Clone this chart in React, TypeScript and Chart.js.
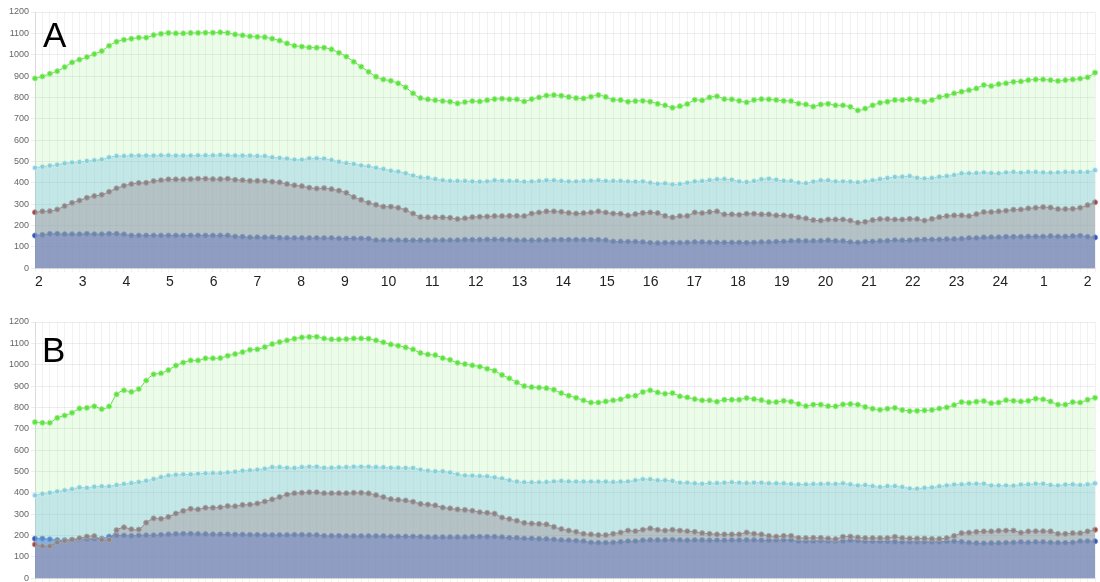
import React, { useEffect, useRef } from "react";
import { Chart, registerables } from "chart.js";

Chart.register(...registerables);

// ---------- categories / tick labels ----------
const HOUR_LABELS = ["2", "3", "4", "5", "6", "7", "8", "9", "10", "11", "12", "13", "14", "15", "16", "17", "18", "19", "20", "21", "22", "23", "24", "1", "2"];
const TIME_LABELS: string[] = [];
for (let i = 0; i < 144; i++) {
  const mins = 120 + i * 10;
  const h = Math.floor(mins / 60) % 24;
  const m = mins % 60;
  TIME_LABELS.push(String(h).padStart(2, "0") + ":" + String(m).padStart(2, "0"));
}
const Y_MIN = 0;
const Y_MAX = 1200;
const Y_STEP = 100;

// ---------- chart A ----------
const A_GREEN = [
  889, 898, 911, 923, 942, 964, 977, 989, 1003, 1017, 1042, 1061, 1070, 1075, 1080, 1080, 1092, 1098, 1102, 1100, 1100, 1102, 1102, 1103, 1103, 1105, 1102, 1095, 1091, 1086, 1084,
  1082, 1075, 1066, 1053, 1042, 1038, 1034, 1033, 1033, 1025, 1009, 991, 967, 944, 920, 897, 884, 878, 866, 847, 819, 797, 791, 787, 783, 780, 772, 778, 783, 781, 787, 792, 794, 791, 791,
  781, 792, 800, 809, 811, 808, 802, 797, 795, 803, 811, 802, 789, 788, 780, 783, 784, 780, 770, 763, 752, 759, 769, 789, 786, 800, 805, 792, 791, 784, 777, 788, 792, 791, 788, 784, 783,
  771, 767, 757, 767, 770, 763, 763, 756, 739, 748, 763, 775, 780, 788, 788, 792, 788, 780, 788, 802, 808, 819, 827, 834, 842, 858, 853, 862, 866, 873, 875, 881, 884, 884, 881, 877, 881, 884, 888, 894, 916,
];
const A_LIGHTBLUE = [
  470, 475, 480, 484, 491, 495, 497, 502, 505, 509, 519, 525, 525, 527, 527, 527, 527, 528, 528, 527, 527, 527, 528, 528, 528, 530, 528, 527, 527, 527, 525,
  525, 519, 516, 513, 508, 508, 514, 514, 513, 506, 498, 492, 488, 481, 477, 470, 464, 456, 452, 444, 434, 425, 423, 417, 411, 408, 408, 408, 406, 405, 406, 411, 409, 408, 408,
  405, 406, 408, 411, 411, 408, 406, 406, 408, 409, 411, 408, 408, 408, 406, 405, 406, 400, 395, 397, 392, 394, 400, 406, 408, 412, 416, 417, 414, 406, 403, 408, 416, 419, 414, 409, 408,
  400, 398, 405, 411, 411, 406, 406, 405, 402, 406, 411, 417, 422, 427, 428, 431, 423, 420, 422, 428, 431, 436, 444, 444, 445, 448, 445, 444, 448, 450, 447, 450, 450, 448, 447, 448, 450, 450, 450, 450, 459,
];
const A_RED = [
  262, 266, 267, 275, 291, 306, 317, 330, 338, 344, 358, 374, 386, 394, 399, 400, 408, 412, 416, 416, 416, 417, 419, 419, 417, 417, 419, 414, 412, 409, 409,
  408, 405, 402, 394, 388, 384, 377, 373, 375, 370, 363, 353, 333, 320, 306, 297, 288, 288, 283, 272, 256, 239, 238, 238, 238, 236, 230, 234, 239, 241, 242, 244, 244, 245, 245,
  244, 256, 261, 266, 266, 264, 259, 256, 258, 261, 266, 261, 256, 255, 247, 253, 259, 261, 258, 245, 238, 244, 245, 261, 258, 263, 266, 252, 252, 250, 255, 255, 252, 252, 247, 247, 244,
  238, 233, 225, 223, 228, 228, 228, 223, 213, 217, 225, 230, 230, 228, 228, 231, 230, 223, 231, 239, 244, 247, 247, 244, 253, 263, 263, 266, 269, 274, 275, 280, 283, 286, 284, 277, 277, 278, 283, 295, 309,
];
const A_BLUE = [
  153, 156, 161, 161, 159, 159, 159, 161, 159, 159, 161, 161, 158, 153, 153, 153, 153, 153, 153, 153, 153, 153, 153, 153, 153, 153, 153, 148, 147, 144, 145,
  144, 145, 142, 141, 141, 141, 141, 141, 141, 141, 139, 139, 139, 139, 138, 131, 131, 131, 131, 130, 130, 130, 130, 131, 131, 131, 131, 133, 133, 133, 134, 134, 134, 133, 131,
  131, 130, 131, 131, 133, 133, 133, 133, 133, 133, 133, 131, 125, 125, 124, 124, 122, 119, 117, 119, 119, 119, 120, 122, 122, 120, 120, 120, 120, 120, 119, 120, 122, 122, 124, 125, 127,
  128, 127, 127, 128, 130, 127, 127, 122, 120, 124, 125, 127, 128, 131, 130, 130, 133, 134, 134, 134, 136, 136, 138, 141, 141, 144, 145, 145, 147, 147, 147, 148, 148, 148, 150, 148, 148, 150, 152, 147, 144,
];

// ---------- chart B ----------
const B_GREEN = [
  731, 728, 728, 751, 762, 775, 795, 798, 805, 792, 805, 861, 880, 873, 886, 926, 955, 960, 975, 996, 1010, 1020, 1020, 1030, 1030, 1031, 1042, 1050, 1059, 1070, 1072,
  1083, 1097, 1106, 1114, 1122, 1128, 1130, 1131, 1123, 1119, 1119, 1120, 1123, 1123, 1122, 1114, 1105, 1095, 1089, 1081, 1072, 1055, 1048, 1045, 1031, 1023, 1009, 1003, 997, 991, 981, 972, 952, 936, 917, 900, 895,
  893, 890, 883, 867, 855, 845, 833, 823, 823, 828, 833, 838, 852, 855, 872, 880, 870, 864, 867, 852, 847, 839, 833, 833, 827, 836, 836, 836, 844, 839, 834, 825, 825, 831, 827,
  816, 806, 813, 813, 806, 805, 814, 816, 813, 802, 794, 789, 794, 798, 788, 783, 784, 786, 788, 795, 800, 811, 825, 822, 827, 830, 820, 823, 834, 831, 828, 831, 841, 838, 828, 813, 813, 825, 823, 836, 845,
];
const B_LIGHTBLUE = [
  388, 395, 400, 406, 411, 417, 425, 423, 428, 430, 430, 436, 441, 445, 450, 456, 464, 473, 481, 484, 486, 486, 489, 491, 492, 492, 495, 498, 503, 505, 508,
  512, 520, 520, 517, 516, 520, 522, 522, 517, 517, 519, 520, 522, 522, 522, 520, 519, 517, 517, 516, 516, 508, 503, 500, 500, 495, 486, 481, 480, 478, 477, 472, 467, 458, 452, 449, 449,
  449, 450, 453, 455, 453, 452, 452, 452, 452, 452, 450, 452, 453, 458, 463, 463, 458, 458, 455, 447, 447, 444, 442, 445, 445, 447, 449, 447, 445, 447, 447, 444, 444, 444, 441,
  439, 439, 441, 441, 442, 441, 444, 439, 434, 436, 431, 427, 431, 431, 427, 420, 419, 423, 425, 430, 434, 438, 439, 442, 442, 442, 434, 434, 434, 433, 438, 439, 442, 442, 436, 434, 438, 439, 436, 439, 444,
];
const B_RED = [
  158, 150, 150, 168, 175, 180, 187, 195, 197, 180, 180, 225, 238, 229, 228, 260, 280, 278, 287, 303, 315, 325, 322, 330, 330, 332, 338, 337, 343, 345, 350,
  359, 369, 380, 392, 398, 400, 402, 402, 398, 398, 398, 398, 400, 400, 397, 389, 380, 370, 367, 364, 358, 348, 345, 341, 331, 327, 322, 320, 316, 309, 306, 302, 284, 277, 269, 259, 256,
  254, 252, 240, 230, 223, 217, 208, 205, 202, 202, 208, 214, 223, 220, 227, 233, 227, 223, 227, 223, 220, 217, 211, 208, 205, 205, 205, 205, 214, 208, 205, 198, 195, 198, 198,
  189, 188, 189, 189, 186, 183, 194, 195, 191, 188, 188, 188, 188, 194, 188, 186, 186, 186, 184, 184, 188, 198, 211, 213, 217, 219, 219, 222, 223, 223, 213, 219, 220, 220, 219, 208, 208, 211, 211, 219, 227,
];
const B_BLUE = [
  185, 185, 182, 178, 178, 180, 182, 183, 185, 185, 195, 200, 200, 198, 200, 201, 201, 203, 205, 207, 208, 208, 207, 206, 205, 205, 205, 204, 204, 203, 203,
  202, 202, 202, 202, 203, 203, 202, 202, 198, 198, 198, 197, 197, 197, 197, 197, 197, 195, 195, 195, 195, 194, 192, 192, 192, 192, 192, 192, 194, 194, 194, 194, 192, 189, 189, 186, 186,
  184, 183, 181, 178, 177, 175, 173, 167, 166, 166, 167, 170, 173, 173, 177, 178, 178, 178, 180, 178, 177, 178, 178, 177, 177, 177, 178, 178, 178, 178, 177, 177, 178, 178, 178,
  173, 173, 173, 175, 173, 173, 173, 177, 175, 172, 172, 172, 172, 170, 169, 170, 170, 170, 170, 170, 172, 172, 170, 166, 164, 163, 164, 164, 166, 167, 169, 167, 169, 169, 167, 166, 166, 167, 173, 173, 173,
];

// ---------- styles ----------
const FONT = "'Liberation Sans', Arial, Helvetica, sans-serif";
const HOUR_AXIS_MIN = -0.09;
const HOUR_AXIS_MAX = 24.17;

type Series = { green: number[]; lightBlue: number[]; red: number[]; blue: number[] };

function ds(label: string, data: number[], line: string, point: string, halo: string, fill: string) {
  return {
    label,
    data,
    borderColor: line,
    borderWidth: 1,
    backgroundColor: fill,
    fill: "origin",
    tension: 0.3,
    pointRadius: 2.6,
    pointBorderWidth: 1,
    pointBackgroundColor: point,
    pointBorderColor: halo,
  };
}

function PanelChart({ series }: { series: Series }) {
  const ref = useRef<HTMLCanvasElement | null>(null);
  useEffect(() => {
    const canvas = ref.current;
    if (!canvas) return;
    const chart = new Chart(canvas, {
      type: "line",
      data: {
        labels: TIME_LABELS,
        datasets: [
          ds("green", series.green, "#58d83c", "#5ee23f", "rgba(165,240,150,0.9)", "rgba(88,230,72,0.12)"),
          ds("lightblue", series.lightBlue, "#86c3ec", "#8ecbf0", "rgba(225,242,255,0.9)", "rgba(139,192,250,0.4)"),
          ds("red", series.red, "#9a4040", "#a04444", "rgba(200,140,140,0.85)", "rgba(183,56,69,0.35)"),
          ds("blue", series.blue, "#3048c0", "#3350c4", "rgba(120,140,215,0.85)", "rgba(49,64,234,0.55)"),
        ] as any,
      },
      options: {
        responsive: false,
        animation: false,
        devicePixelRatio: 1,
        events: [],
        layout: { padding: { top: 12, right: 2, bottom: 7, left: 0 } },
        plugins: {
          legend: { display: false },
          tooltip: { enabled: false },
        },
        scales: {
          x: {
            type: "category",
            weight: 0,
            offset: false,
            grid: { color: "rgba(0,0,0,0.05)", tickLength: 4, drawTicks: true, offset: false },
            border: { color: "rgba(0,0,0,0.1)" },
            ticks: { display: false, autoSkip: false },
          },
          hours: {
            type: "linear",
            axis: "x",
            position: "bottom",
            weight: 1,
            min: HOUR_AXIS_MIN,
            max: HOUR_AXIS_MAX,
            grid: { display: false, drawTicks: false },
            border: { display: false },
            afterBuildTicks: (s: any) => {
              s.ticks = HOUR_LABELS.map((_, k) => ({ value: k }));
            },
            ticks: {
              autoSkip: false,
              maxRotation: 0,
              padding: 2,
              color: "#222",
              font: { family: FONT, size: 14 },
              callback: (_v: any, i: number) => HOUR_LABELS[i],
            },
          },
          y: {
            min: Y_MIN,
            max: Y_MAX,
            afterFit: (s: any) => {
              s.width = 35;
            },
            grid: { color: "rgba(0,0,0,0.07)", tickLength: 4 },
            border: { color: "rgba(0,0,0,0.1)" },
            ticks: {
              stepSize: Y_STEP,
              padding: 2,
              color: "#666",
              font: { family: FONT, size: 9 },
              callback: (v: any) => String(v),
            },
          },
        } as any,
      },
    });
    return () => chart.destroy();
  }, [series]);
  return <canvas ref={ref} width={1100} height={300} style={{ display: "block", width: 1100, height: 300 }} />;
}

const SERIES_A: Series = { green: A_GREEN, lightBlue: A_LIGHTBLUE, red: A_RED, blue: A_BLUE };
const SERIES_B: Series = { green: B_GREEN, lightBlue: B_LIGHTBLUE, red: B_RED, blue: B_BLUE };

const letterStyle: React.CSSProperties = {
  position: "absolute",
  fontFamily: FONT,
  fontSize: 35,
  lineHeight: "normal",
  color: "#000",
};

export default function App() {
  return (
    <div style={{ position: "absolute", left: 0, top: 0, width: 1100, height: 582, overflow: "hidden", background: "#fff" }}>
      <div style={{ position: "absolute", left: 0, top: 0 }}>
        <PanelChart series={SERIES_A} />
      </div>
      <div style={{ position: "absolute", left: 0, top: 310 }}>
        <PanelChart series={SERIES_B} />
      </div>
      <div style={{ ...letterStyle, left: 43, top: 15 }}>A</div>
      <div style={{ ...letterStyle, left: 42, top: 330 }}>B</div>
    </div>
  );
}
